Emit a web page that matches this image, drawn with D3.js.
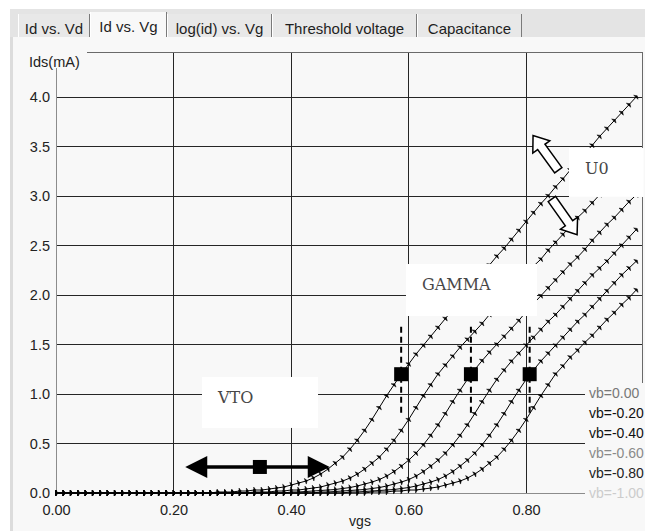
<!DOCTYPE html>
<html lang="en">

<head>
    <meta charset="UTF-8">
    <meta name="viewport" content="width=device-width, initial-scale=1.0">
    <title>Id vs. Vg</title>
    <script src="https://d3js.org/d3.v7.min.js"></script>
    <style>
        body { margin: 0; background: #ffffff; }
        text { font-family: "Liberation Sans", Arial, sans-serif; }
        text.note { font-family: "DejaVu Serif", serif; }
    </style>
</head>

<body>
    <script>
        // ---- data ----
        var tabs = ["Id vs. Vd", "Id vs. Vg", "log(id) vs. Vg", "Threshold voltage", "Capacitance"];
        var yTicks = [0.0, 0.5, 1.0, 1.5, 2.0, 2.5, 3.0, 3.5, 4.0];
        var xTicks = [0.00, 0.20, 0.40, 0.60, 0.80];
        var vbLabels = ["vb=0.00", "vb=-0.20", "vb=-0.40", "vb=-0.60", "vb=-0.80", "vb=-1.00"];

        var vgs = [0, 0.0125, 0.025, 0.0375, 0.05, 0.0625, 0.075, 0.0875, 0.1, 0.1125,
            0.125, 0.1375, 0.15, 0.1625, 0.175, 0.1875, 0.2, 0.2125, 0.225, 0.2375,
            0.25, 0.2625, 0.275, 0.2875, 0.3, 0.3125, 0.325, 0.3375, 0.35, 0.3625,
            0.375, 0.3875, 0.4, 0.4125, 0.425, 0.4375, 0.45, 0.4625, 0.475, 0.4875,
            0.5, 0.5125, 0.525, 0.5375, 0.55, 0.5625, 0.575, 0.5875, 0.6, 0.6125,
            0.625, 0.6375, 0.65, 0.6625, 0.675, 0.6875, 0.7, 0.7125, 0.725, 0.7375,
            0.75, 0.7625, 0.775, 0.7875, 0.8, 0.8125, 0.825, 0.8375, 0.85, 0.8625,
            0.875, 0.8875, 0.9, 0.9125, 0.925, 0.9375, 0.95, 0.9625, 0.975, 0.9875];

        var idVb0 = [0, 0, 0, 0, 0, 0, 0, 0, 0, 0,
            0, 0, 0, 0, 0, 0, 0, 0, 0, 0,
            0, 0,
            0.01, 0.01, 0.01, 0.02, 0.02, 0.03, 0.03, 0.04, 0.05, 0.06, 0.08, 0.10, 0.12, 0.15, 0.19, 0.24,
            0.30, 0.36, 0.44, 0.53, 0.63, 0.74, 0.86, 0.98, 1.09, 1.20,
            1.30, 1.40, 1.49, 1.58, 1.67, 1.76, 1.85, 1.94, 2.03, 2.12, 2.21, 2.30, 2.39, 2.47, 2.56, 2.65,
            2.74, 2.83, 2.92, 3.00, 3.09, 3.17, 3.26, 3.34, 3.43, 3.51, 3.60, 3.68, 3.76, 3.84, 3.92, 4.00];

        var idVb02 = [0, 0, 0, 0, 0, 0, 0, 0, 0, 0,
            0, 0, 0, 0, 0, 0, 0, 0, 0, 0,
            0, 0, 0, 0, 0, 0, 0,
            0.01, 0.01, 0.01, 0.02, 0.02, 0.03, 0.03, 0.04, 0.05, 0.06, 0.08, 0.10, 0.12, 0.15, 0.19, 0.24,
            0.30, 0.36, 0.44, 0.53, 0.63, 0.74, 0.86, 0.98, 1.09, 1.20,
            1.29, 1.38, 1.47, 1.55, 1.63, 1.71, 1.80, 1.88, 1.96, 2.04, 2.13, 2.21, 2.29, 2.36,
            2.45, 2.53, 2.61, 2.69, 2.78, 2.85, 2.93, 3.01, 3.09, 3.16, 3.24, 3.32, 3.40];

        var idVb04 = [0, 0, 0, 0, 0, 0, 0, 0, 0, 0,
            0, 0, 0, 0, 0, 0, 0, 0, 0, 0,
            0, 0, 0, 0, 0, 0, 0, 0, 0, 0,
            0, 0,
            0.01, 0.01, 0.015, 0.02, 0.025, 0.03, 0.035, 0.045, 0.055, 0.07, 0.09, 0.11, 0.135, 0.17,
            0.215, 0.27, 0.33, 0.40, 0.485, 0.58, 0.685, 0.80, 0.92, 1.035, 1.145,
            1.245, 1.335, 1.42, 1.50, 1.58, 1.66, 1.74, 1.83, 1.91, 1.99, 2.07, 2.15, 2.23, 2.31,
            2.38, 2.46, 2.55, 2.63, 2.71, 2.78, 2.86, 2.94, 3.01];

        var idVb06 = [0, 0, 0, 0, 0, 0, 0, 0, 0, 0,
            0, 0, 0, 0, 0, 0, 0, 0, 0, 0,
            0, 0, 0, 0, 0, 0, 0, 0, 0, 0,
            0, 0, 0, 0, 0, 0,
            0.01, 0.01, 0.015, 0.02, 0.025, 0.03, 0.035, 0.045, 0.055, 0.07, 0.09, 0.11, 0.135, 0.17,
            0.215, 0.27, 0.33, 0.40, 0.485, 0.58, 0.685, 0.80, 0.92, 1.035, 1.145,
            1.24, 1.33, 1.41, 1.49, 1.57, 1.65, 1.73, 1.80, 1.88, 1.96, 2.04, 2.12, 2.20, 2.27,
            2.34, 2.42, 2.50, 2.58, 2.66];

        var idVb08 = [0, 0, 0, 0, 0, 0, 0, 0, 0, 0,
            0, 0, 0, 0, 0, 0, 0, 0, 0, 0,
            0, 0, 0, 0, 0, 0, 0, 0, 0, 0,
            0, 0, 0, 0, 0, 0, 0, 0, 0, 0,
            0.01, 0.01, 0.015, 0.02, 0.025, 0.03, 0.035, 0.045, 0.055, 0.07, 0.09, 0.11, 0.135, 0.17,
            0.215, 0.27, 0.33, 0.40, 0.485, 0.58, 0.685, 0.80, 0.92, 1.035, 1.145,
            1.24, 1.33, 1.41, 1.49, 1.57, 1.65, 1.73, 1.80, 1.88, 1.96, 2.04, 2.12, 2.20, 2.27, 2.34];

        var idVb10 = [0, 0, 0, 0, 0, 0, 0, 0, 0, 0,
            0, 0, 0, 0, 0, 0, 0, 0, 0, 0,
            0, 0, 0, 0, 0, 0, 0, 0, 0, 0,
            0, 0, 0, 0, 0, 0, 0, 0, 0, 0,
            0, 0, 0,
            0.01, 0.01, 0.01, 0.02, 0.02, 0.03, 0.03, 0.04, 0.05, 0.06, 0.08, 0.10, 0.12, 0.15, 0.19, 0.24,
            0.30, 0.36, 0.44, 0.53, 0.63, 0.74, 0.86, 0.98, 1.09, 1.20,
            1.28, 1.37, 1.44, 1.52, 1.59, 1.67, 1.75, 1.82, 1.90, 1.97, 2.05];

        var curves = [idVb0, idVb02, idVb04, idVb06, idVb08, idVb10];

        // annotations, in vgs / Id units
        var vtoArrow = { from: 0.22, to: 0.466, id: 0.263, mark: 0.347 };
        var gammaMarks = [0.5875, 0.70625, 0.80625];
        var gammaLevel = 1.2;
        var u0Arrows = [
            { tail: [0.855, 3.26], tip: [0.812, 3.61] },
            { tail: [0.844, 2.97], tip: [0.887, 2.61] }
        ];
        var noteBoxes = [
            { label: "VTO", x0: 0.2485, x1: 0.446, y0: 1.172, y1: 0.657 },
            { label: "GAMMA", x0: 0.5957, x1: 0.8187, y0: 2.313, y1: 1.788 },
            { label: "U0", x0: 0.8732, x1: 1.0, y0: 3.485, y1: 2.99 }
        ];

        // ---- drawing ----
        var svg = d3.select("body")
            .append("svg")
            .attr("width", "645")
            .attr("height", "531");

        svg.append("rect").attr("x", 0).attr("y", 0).attr("width", 645).attr("height", 531).attr("fill", "#ffffff");
        svg.append("rect").attr("x", 10).attr("y", 9).attr("width", 635).attr("height", 28).attr("fill", "#e4e4e4");
        svg.append("rect").attr("x", 10).attr("y", 37).attr("width", 635).attr("height", 494).attr("fill", "#f8f8f8");
        svg.append("rect").attr("x", 10).attr("y", 37).attr("width", 3).attr("height", 494).attr("fill", "#dcdcdc");

        // tab strip
        var tabEdges = [18, 90, 167, 272, 417, 522];
        tabs.forEach(function (name, i) {
            var left = tabEdges[i], right = tabEdges[i + 1];
            var sel = (i == 1);
            var top = sel ? 12 : 14;
            svg.append("rect")
                .attr("x", left).attr("y", top)
                .attr("width", right - left).attr("height", 37 - top)
                .attr("fill", sel ? "#f8f8f8" : "#e8e8e8");
            svg.append("line")
                .attr("x1", left + 0.5).attr("x2", left + 0.5).attr("y1", top).attr("y2", 37)
                .attr("stroke", "#ffffff");
            svg.append("line")
                .attr("x1", right - 0.5).attr("x2", right - 0.5).attr("y1", top).attr("y2", 37)
                .attr("stroke", "#7a7a7a");
            svg.append("text")
                .attr("x", (left + right) / 2)
                .attr("y", sel ? 32 : 34)
                .attr("text-anchor", "middle")
                .attr("font-size", "15px")
                .attr("fill", "#1e1e1e")
                .text(name);
        });

        var x = d3.scaleLinear().domain([0, 1]).range([56, 643.5]);
        var y = d3.scaleLinear().domain([0, 4]).range([493, 97]);

        // grid
        var grid = svg.append("g").attr("shape-rendering", "crispEdges");
        grid.selectAll(".hgrid")
            .data(yTicks.filter(function (d) { return d > 0; }))
            .enter().append("line")
            .attr("x1", x(0)).attr("x2", 642)
            .attr("y1", function (d) { return y(d); })
            .attr("y2", function (d) { return y(d); })
            .attr("stroke", "#262626");
        grid.selectAll(".vgrid")
            .data(xTicks.filter(function (d) { return d > 0; }))
            .enter().append("line")
            .attr("x1", function (d) { return x(d); })
            .attr("x2", function (d) { return x(d); })
            .attr("y1", 52).attr("y2", y(0))
            .attr("stroke", "#262626");
        // frame
        grid.append("line").attr("x1", 87).attr("x2", 642).attr("y1", 52).attr("y2", 52).attr("stroke", "#6a6a6a");
        grid.append("line").attr("x1", 642).attr("x2", 642).attr("y1", 52).attr("y2", y(0)).attr("stroke", "#6a6a6a");
        grid.append("line").attr("x1", x(0)).attr("x2", x(0)).attr("y1", 68).attr("y2", y(0)).attr("stroke", "#8c8c8c");
        grid.append("line").attr("x1", x(0)).attr("x2", 642).attr("y1", y(0)).attr("y2", y(0)).attr("stroke", "#8c8c8c");

        // axes (labels only)
        var yAxis = svg.append("g")
            .attr("transform", "translate(" + x(0) + ",0)")
            .call(d3.axisLeft(y).tickValues(yTicks).tickFormat(d3.format(".1f")).tickSize(0).tickPadding(6));
        yAxis.select(".domain").remove();
        yAxis.selectAll("text").attr("font-size", "14.5px").attr("fill", "#222");

        var xAxis = svg.append("g")
            .attr("transform", "translate(0," + y(0) + ")")
            .call(d3.axisBottom(x).tickValues(xTicks).tickFormat(d3.format(".2f")).tickSize(0).tickPadding(12));
        xAxis.select(".domain").remove();
        xAxis.selectAll("text").attr("font-size", "14.5px").attr("fill", "#222");

        svg.append("text").attr("x", 29).attr("y", 67).attr("font-size", "14.5px").attr("fill", "#222").text("Ids(mA)");
        svg.append("text").attr("x", 360).attr("y", 526).attr("text-anchor", "middle")
            .attr("font-size", "14px").attr("fill", "#222").text("vgs");

        // curves with their point markers
        var line = d3.line()
            .x(function (d, i) { return x(vgs[i]); })
            .y(function (d) { return y(d); });

        var curveLayer = svg.append("g");
        curves.forEach(function (vals) {
            curveLayer.append("path")
                .attr("d", line(vals))
                .attr("fill", "none")
                .attr("stroke", "#000")
                .attr("stroke-width", 1);

            var pts = vals.map(function (d, i) { return [x(vgs[i]), y(d)]; });
            var marks = "";
            pts.forEach(function (p, i) {
                var a = pts[Math.max(i - 1, 0)], b = pts[Math.min(i + 1, pts.length - 1)];
                var dx = b[0] - a[0], dy = b[1] - a[1];
                var len = Math.sqrt(dx * dx + dy * dy) || 1;
                dx /= len; dy /= len;
                var nx = -dy, ny = dx;
                // thin arrow-like tick across the line
                marks += "M" + (p[0] + dx * 1.6) + "," + (p[1] + dy * 1.6) +
                    "L" + (p[0] - dx * 0.4 + nx * 3) + "," + (p[1] - dy * 0.4 + ny * 3) +
                    "L" + (p[0] - dx * 0.4 - nx * 3) + "," + (p[1] - dy * 0.4 - ny * 3) + "Z";
            });
            curveLayer.append("path").attr("d", marks).attr("fill", "#000")
                .attr("stroke", "#000").attr("stroke-width", 0.5);
        });

        // white note boxes
        noteBoxes.forEach(function (b) {
            svg.append("rect")
                .attr("x", x(b.x0)).attr("y", y(b.y0))
                .attr("width", x(b.x1) - x(b.x0))
                .attr("height", y(b.y1) - y(b.y0))
                .attr("fill", "#ffffff");
            svg.append("text")
                .attr("class", "note")
                .attr("x", x(b.x0) + 16)
                .attr("y", y(b.y0) + 26)
                .attr("font-size", "16px")
                .attr("fill", "#474747")
                .text(b.label);
        });

        // VTO double arrow
        var ay = y(vtoArrow.id), ax0 = x(vtoArrow.from), ax1 = x(vtoArrow.to);
        svg.append("line")
            .attr("x1", ax0 + 20).attr("x2", ax1 - 20).attr("y1", ay).attr("y2", ay)
            .attr("stroke", "#000").attr("stroke-width", 3.5);
        svg.append("path")
            .attr("d", "M" + ax0 + "," + ay + "L" + (ax0 + 22) + "," + (ay - 11) + "L" + (ax0 + 22) + "," + (ay + 11) + "Z")
            .attr("fill", "#000");
        svg.append("path")
            .attr("d", "M" + ax1 + "," + ay + "L" + (ax1 - 22) + "," + (ay - 11) + "L" + (ax1 - 22) + "," + (ay + 11) + "Z")
            .attr("fill", "#000");
        svg.append("rect")
            .attr("x", x(vtoArrow.mark) - 7).attr("y", ay - 7)
            .attr("width", 14).attr("height", 14).attr("fill", "#000");

        // GAMMA marks
        gammaMarks.forEach(function (v) {
            svg.append("line")
                .attr("x1", x(v)).attr("x2", x(v))
                .attr("y1", y(1.68)).attr("y2", y(0.81))
                .attr("stroke", "#000").attr("stroke-width", 2)
                .attr("stroke-dasharray", "6,4");
            svg.append("rect")
                .attr("x", x(v) - 7).attr("y", y(gammaLevel) - 7)
                .attr("width", 14).attr("height", 14).attr("fill", "#000");
        });

        // U0 hollow arrows
        u0Arrows.forEach(function (a) {
            var tx = x(a.tail[0]), ty = y(a.tail[1]);
            var px = x(a.tip[0]), py = y(a.tip[1]);
            var dx = px - tx, dy = py - ty;
            var len = Math.sqrt(dx * dx + dy * dy);
            dx /= len; dy /= len;
            var nx = -dy, ny = dx;
            var bx = px - dx * 14, by = py - dy * 14;
            var w = 4.5, hw = 10.5;
            var poly = [
                [tx + nx * w, ty + ny * w], [bx + nx * w, by + ny * w], [bx + nx * hw, by + ny * hw],
                [px, py],
                [bx - nx * hw, by - ny * hw], [bx - nx * w, by - ny * w], [tx - nx * w, ty - ny * w]
            ];
            svg.append("path")
                .attr("d", "M" + poly.join("L") + "Z")
                .attr("fill", "#ffffff")
                .attr("stroke", "#000")
                .attr("stroke-width", 1.5)
                .attr("stroke-linejoin", "miter");
        });

        // legend
        var legendColors = ["#777777", "#111111", "#111111", "#8a8a8a", "#222222", "#cccccc"];
        svg.append("rect").attr("x", 585).attr("y", 383).attr("width", 60).attr("height", 120).attr("fill", "#f8f8f8");
        svg.selectAll(".legend")
            .data(vbLabels)
            .enter().append("text")
            .attr("x", 589)
            .attr("y", function (d, i) { return 393.5 + i * 20; })
            .attr("dy", "0.35em")
            .attr("font-size", "14px")
            .attr("fill", function (d, i) { return legendColors[i]; })
            .text(function (d) { return d; });
    </script>
</body>

</html>
